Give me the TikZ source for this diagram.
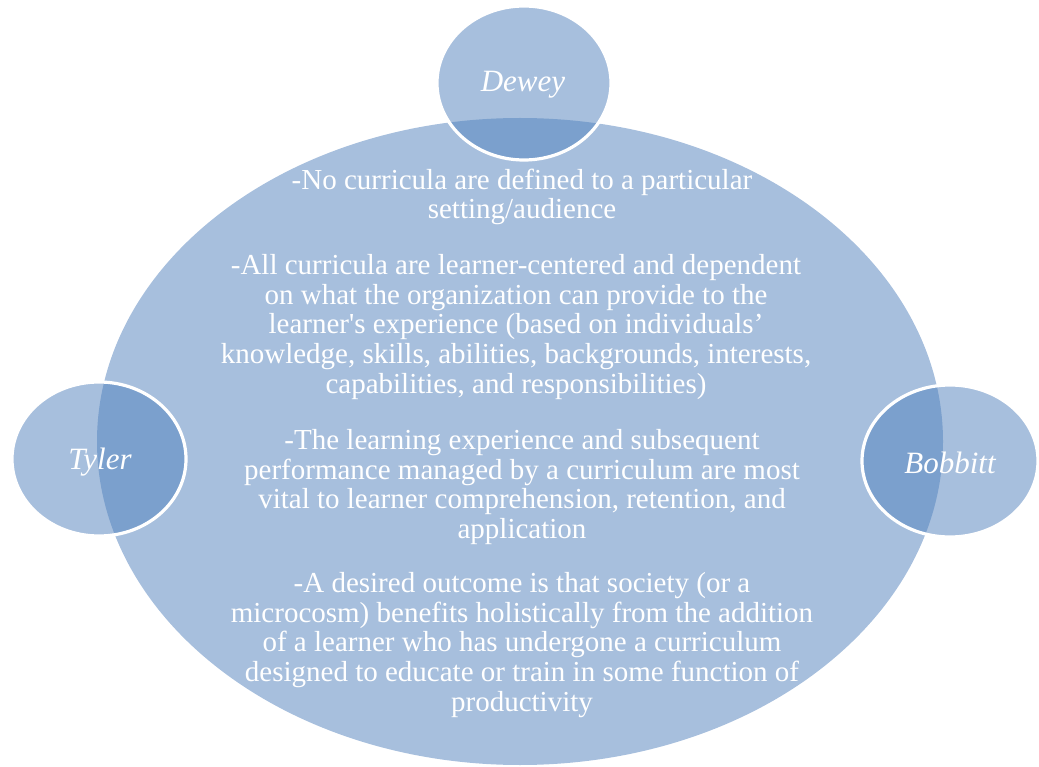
\documentclass[tikz,border=0pt]{standalone}
\usepackage{fontspec}
\setmainfont{Liberation Serif}
% same face without TeX ligature mapping, for a straight apostrophe
\newfontfamily\plainserif[Ligatures=ResetAll]{Liberation Serif}
\newcommand{\straightquote}{{\plainserif\char"0027}}
\definecolor{lightblue}{HTML}{A7BFDD}
\definecolor{darkblue}{HTML}{7BA0CD}
\begin{document}
\begin{tikzpicture}[x=1pt,y=-1pt,
  bodytext/.style={text=white,align=center,font=\fontsize{29}{29.8}\selectfont,inner sep=0pt},
  nametext/.style={text=white,font=\fontsize{31}{33}\itshape\selectfont,inner sep=0pt},
  rim/.style={draw=white,line width=3.2pt}]
\useasboundingbox (0,0) rectangle (1039,767);

% central ellipse
\fill[lightblue] (520,441.5) ellipse [x radius=423, y radius=323.5];

% satellite ellipses: light fill, darker where they overlap the centre
\foreach \cx/\cy/\rx/\ry in {524/83/87/77, 99/459/87/77, 950/461/88/76}{
  \fill[lightblue] (\cx,\cy) ellipse [x radius=\rx, y radius=\ry];
  \begin{scope}
    \clip (520,441.5) ellipse [x radius=423, y radius=323.5];
    \fill[darkblue] (\cx,\cy) ellipse [x radius=\rx, y radius=\ry];
  \end{scope}
  \draw[rim] (\cx,\cy) ellipse [x radius=\rx, y radius=\ry];
}

\node[nametext] (dewey) at (523,85) {Dewey};
\node[nametext] (tyler) at (100,462) {Tyler};
\node[nametext] (bobbitt) at (950,463) {Bobbitt};

\node[bodytext] (p1) at (522,197) {-No curricula are defined to a particular\\setting/audience};
\node[bodytext] (p2) at (516,327) {-All curricula are learner-centered and dependent\\on what the organization can provide to the\\learner\straightquote s experience (based on individuals’\\knowledge, skills, abilities, backgrounds, interests,\\capabilities, and responsibilities)};
\node[bodytext] (p3) at (522,487) {-The learning experience and subsequent\\performance managed by a curriculum are most\\vital to learner comprehension, retention, and\\application};
\node[bodytext] (p4) at (522,645) {-A desired outcome is that society (or a\\microcosm) benefits holistically from the addition\\of a learner who has undergone a curriculum\\designed to educate or train in some function of\\productivity};
\end{tikzpicture}
\end{document}
